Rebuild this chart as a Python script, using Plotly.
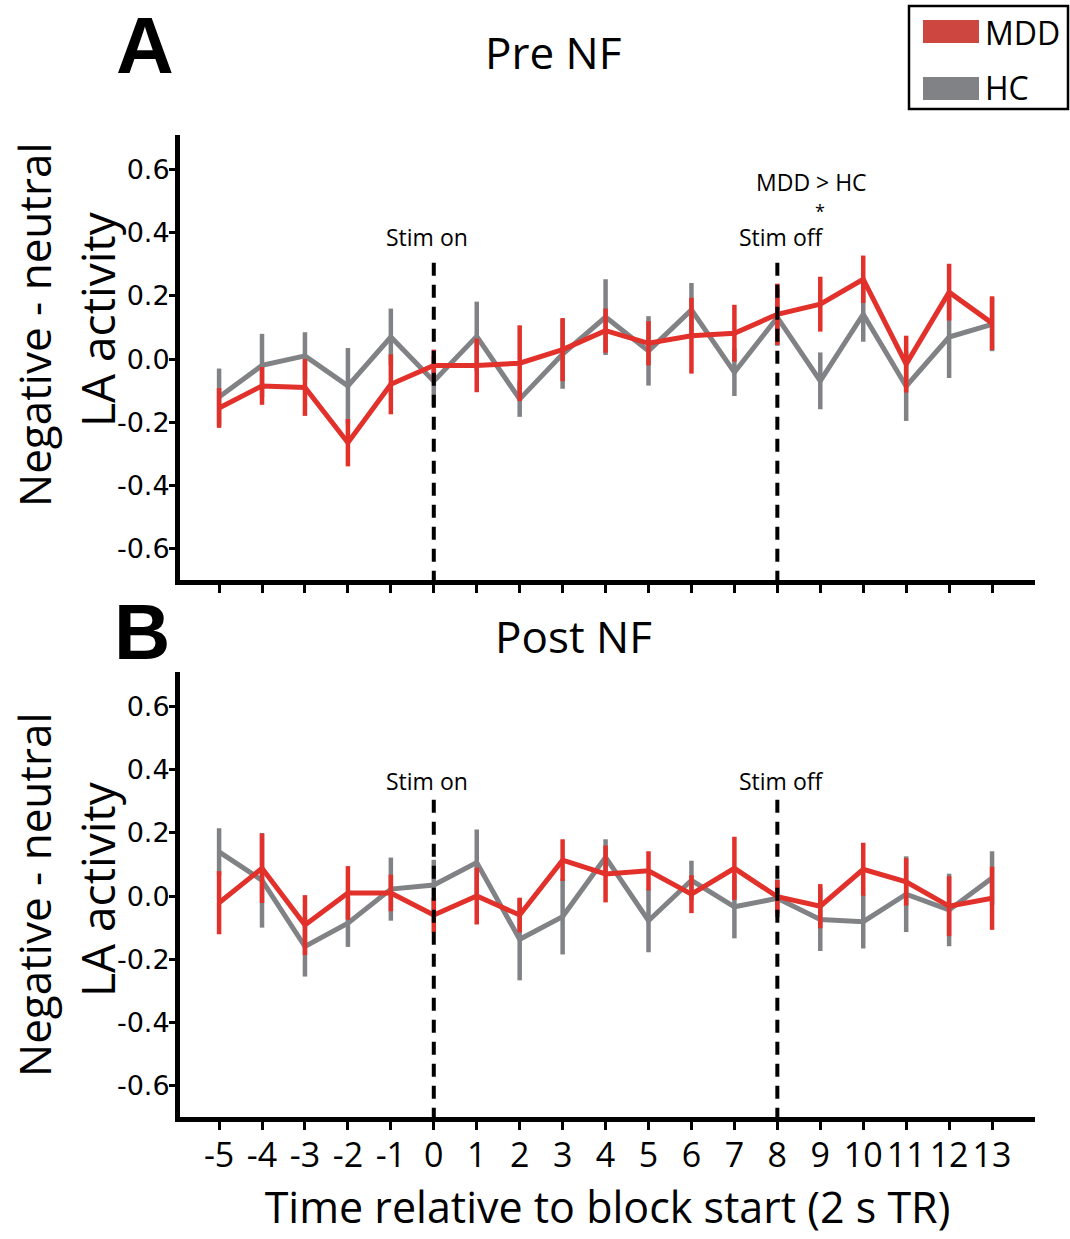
import plotly.graph_objects as go

W, H = 1070, 1239

time = list(range(-5, 14))
tick_labels = [str(t) for t in time]
y_ticks = [-0.6, -0.4, -0.2, 0.0, 0.2, 0.4, 0.6]
y_tick_labels = ["-0.6", "-0.4", "-0.2", "0.0", "0.2", "0.4", "0.6"]

pre_mdd = [-0.155, -0.085, -0.09, -0.265, -0.08, -0.02, -0.02, -0.013, 0.03, 0.09,
           0.05, 0.074, 0.082, 0.142, 0.174, 0.253, -0.016, 0.212, 0.114]
pre_mdd_err = [0.063, 0.06, 0.09, 0.075, 0.095, 0.05, 0.085, 0.12, 0.1, 0.07,
               0.07, 0.12, 0.09, 0.097, 0.087, 0.075, 0.09, 0.09, 0.085]
pre_hc = [-0.12, -0.02, 0.01, -0.085, 0.07, -0.07, 0.072, -0.127, 0.016, 0.133,
          0.026, 0.156, -0.042, 0.132, -0.069, 0.142, -0.086, 0.07, 0.11]
pre_hc_err = [0.09, 0.10, 0.075, 0.12, 0.09, 0.08, 0.11, 0.056, 0.11, 0.12,
              0.11, 0.085, 0.075, 0.09, 0.09, 0.087, 0.11, 0.13, 0.085]

post_mdd = [-0.021, 0.088, -0.092, 0.01, 0.01, -0.06, 0.0, -0.06, 0.114, 0.07,
            0.08, 0.006, 0.088, -0.002, -0.032, 0.085, 0.045, -0.032, -0.007]
post_mdd_err = [0.10, 0.11, 0.095, 0.085, 0.058, 0.055, 0.09, 0.055, 0.066, 0.09,
                0.062, 0.06, 0.10, 0.053, 0.07, 0.084, 0.075, 0.095, 0.10]
post_hc = [0.14, 0.05, -0.16, -0.086, 0.022, 0.035, 0.106, -0.137, -0.065, 0.123,
           -0.078, 0.05, -0.034, -0.007, -0.074, -0.081, 0.006, -0.044, 0.057]
post_hc_err = [0.075, 0.15, 0.095, 0.075, 0.10, 0.08, 0.105, 0.13, 0.12, 0.057,
               0.10, 0.062, 0.10, 0.06, 0.10, 0.085, 0.12, 0.115, 0.085]

stim_on, stim_off = 0, 8
stim_line_top = 0.305

RED = "#E2302B"
GRAY = "#808285"
LEG_RED = "#CD4640"

FONT = "Open Sans, Liberation Sans, sans-serif"
XRANGE = [-5.91, 14.0]
YRANGE = [-0.70, 0.71]


def px_x(p):
    return p / W


def px_y(p):
    return 1 - p / H


fig = go.Figure()


def add_series(y, err, color, xa, ya, name):
    fig.add_trace(go.Scatter(
        x=time, y=y, mode="lines", name=name, showlegend=False,
        line=dict(color=color, width=5),
        error_y=dict(type="data", array=err, visible=True, color=color,
                     thickness=4.5, width=0),
        xaxis=xa, yaxis=ya, hoverinfo="skip"))


add_series(pre_hc, pre_hc_err, GRAY, "x", "y", "HC")
add_series(pre_mdd, pre_mdd_err, RED, "x", "y", "MDD")
add_series(post_hc, post_hc_err, GRAY, "x2", "y2", "HC")
add_series(post_mdd, post_mdd_err, RED, "x2", "y2", "MDD")

xdom = [px_x(180), px_x(1035)]
ydomA = [px_y(580), px_y(135)]
ydomB = [px_y(1117), px_y(672)]

common_x = dict(range=XRANGE, tickmode="array", tickvals=time, ticktext=tick_labels,
                showline=True, linewidth=5, linecolor="black", ticks="outside",
                ticklen=8, tickwidth=3, tickcolor="black", showgrid=False,
                zeroline=False, domain=xdom, fixedrange=True)
common_y = dict(range=YRANGE, tickmode="array", tickvals=y_ticks, ticktext=y_tick_labels,
                showline=True, linewidth=5, linecolor="black", ticks="outside",
                ticklen=6, tickwidth=3, tickcolor="black", showgrid=False,
                zeroline=False, tickfont=dict(family="DejaVu Sans", size=27, color="black"),
                ticklabelstandoff=-6, fixedrange=True)

fig.update_layout(
    width=W, height=H,
    margin=dict(l=0, r=0, t=0, b=0),
    paper_bgcolor="white", plot_bgcolor="white",
    showlegend=False,
    xaxis=dict(**common_x, anchor="y", showticklabels=False),
    yaxis=dict(**common_y, domain=ydomA, anchor="x"),
    xaxis2=dict(**common_x, anchor="y2", showticklabels=True,
                tickfont=dict(family=FONT, size=34, color="black"),
                ticklabelstandoff=-4,
                title=dict(text="Time relative to block start (2 s TR)",
                           font=dict(family=FONT, size=43, color="black"), standoff=6)),
    yaxis2=dict(**common_y, domain=ydomB, anchor="x2"),
)

shapes = []
for xa, ya in (("x", "y"), ("x2", "y2")):
    for xv in (stim_on, stim_off):
        shapes.append(dict(type="line", xref=xa, yref=ya, x0=xv, x1=xv,
                           y0=stim_line_top, y1=YRANGE[0],
                           line=dict(color="black", width=4, dash="13px,9px")))

# legend box
shapes.append(dict(type="rect", xref="paper", yref="paper",
                   x0=px_x(909), x1=px_x(1068), y0=px_y(109), y1=px_y(6),
                   line=dict(color="black", width=2.5), fillcolor="white"))
shapes.append(dict(type="rect", xref="paper", yref="paper",
                   x0=px_x(923), x1=px_x(979), y0=px_y(43), y1=px_y(20),
                   line=dict(width=0), fillcolor=LEG_RED))
shapes.append(dict(type="rect", xref="paper", yref="paper",
                   x0=px_x(923), x1=px_x(979), y0=px_y(100), y1=px_y(77),
                   line=dict(width=0), fillcolor=GRAY))
fig.update_layout(shapes=shapes)

ann = []


def text(x, y, s, size, xref="paper", yref="paper", family=FONT, angle=0, **kw):
    ann.append(dict(x=x, y=y, xref=xref, yref=yref, text=s, showarrow=False,
                    font=dict(family=family, size=size, color="black"),
                    textangle=angle, xanchor=kw.get("xanchor", "center"),
                    yanchor=kw.get("yanchor", "middle"),
                    xshift=kw.get("xshift", 0)))


# legend labels
text(px_x(983), px_y(32), "MDD", 32, xanchor="left")
text(px_x(983), px_y(88), "HC", 32, xanchor="left")

# panel letters and titles
text(px_x(145), px_y(46), "<b>A</b>", 80, family="Liberation Sans, Arial, sans-serif")
text(px_x(142), px_y(632), "<b>B</b>", 78, family="Liberation Sans, Arial, sans-serif")
text(px_x(553), px_y(52), "Pre NF", 44)
text(px_x(573), px_y(636), "Post NF", 44)

# y axis labels
for cy in (325, 895):
    text(px_x(34), px_y(cy), "Negative - neutral", 44, angle=-90)
    text(px_x(97), px_y(cy - 6), "LA activity", 46, angle=-90)

# stim annotations
for xa, ya, yv in (("x", "y", 0.386), ("x2", "y2", 0.364)):
    text(stim_on, yv, "Stim on", 23, xref=xa, yref=ya, xshift=-7)
    text(stim_off, yv, "Stim off", 23, xref=xa, yref=ya, xshift=4)
text(8.79, 0.56, "MDD > HC", 23, xref="x", yref="y")
text(9.0, 0.515, "*", 18, xref="x", yref="y", yanchor="top")

fig.update_layout(annotations=ann)

fig.write_html("out.html", config={"displayModeBar": False},
               post_script="document.body.style.margin='0';document.body.style.overflow='hidden';")
